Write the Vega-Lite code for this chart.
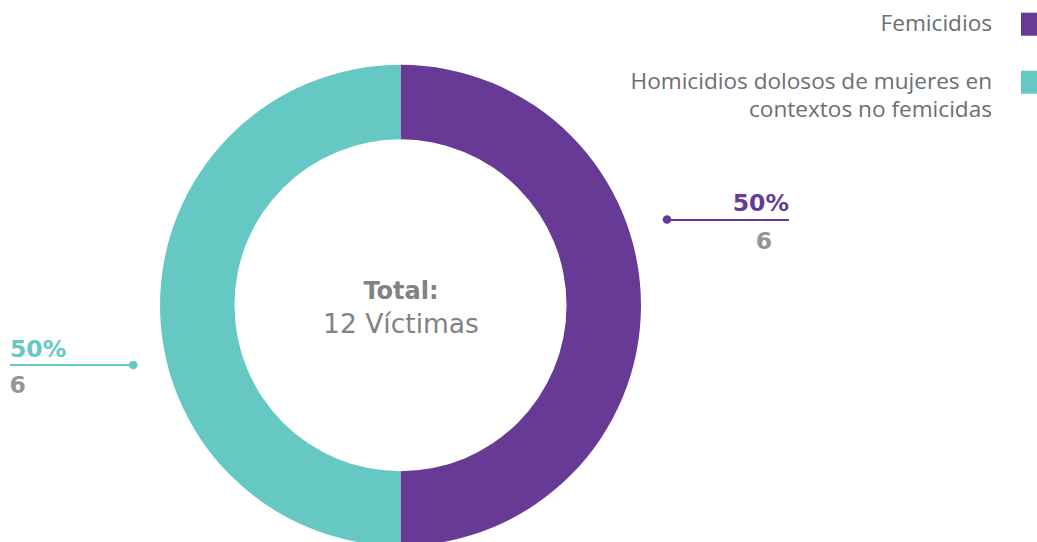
{
  "$schema": "https://vega.github.io/schema/vega-lite/v6.json",
  "width": 1037,
  "height": 542,
  "autosize": {"type": "none"},
  "padding": 0,
  "background": "white",
  "data": {
    "values": [
      {"tipo": "Femicidios", "victimas": 6, "porcentaje": 0.5},
      {"tipo": "Homicidios dolosos de mujeres en contextos no femicidas", "victimas": 6, "porcentaje": 0.5}
    ]
  },
  "layer": [
    {
      "mark": {"type": "arc", "outerRadius": 240.5, "innerRadius": 166, "xOffset": -118, "yOffset": 34.3},
      "encoding": {
        "theta": {"field": "victimas", "type": "quantitative", "stack": true},
        "color": {
          "field": "tipo",
          "type": "nominal",
          "scale": {
            "domain": ["Femicidios", "Homicidios dolosos de mujeres en contextos no femicidas"],
            "range": ["#673A96", "#66C8C3"]
          },
          "legend": {
            "orient": "none",
            "legendX": 1021,
            "legendY": 12.7,
            "title": null,
            "padding": 0,
            "symbolType": "square",
            "symbolSize": 529,
            "symbolStrokeWidth": 0,
            "labelAlign": "right",
            "labelBaseline": "middle",
            "labelOffset": -52,
            "labelFont": "Open Sans",
            "labelFontSize": 22.6,
            "labelColor": "#6d6e71",
            "labelLimit": 600,
            "rowPadding": 34,
            "labelExpr": "datum.value === 'Femicidios' ? datum.label : ['Homicidios dolosos de mujeres en', 'contextos no femicidas']",
            "encode": {
              "labels": {"update": {"lineHeight": {"value": 28}}}
            }
          }
        }
      }
    },
    {
      "transform": [{"aggregate": [{"op": "sum", "field": "victimas", "as": "total"}]}],
      "mark": {"type": "text", "text": "Total:", "font": "DejaVu Sans", "fontWeight": "bold", "fontSize": 24, "color": "#808285", "align": "center", "baseline": "alphabetic", "xOffset": -117.5, "yOffset": 27.5},
      "encoding": {}
    },
    {
      "transform": [{"aggregate": [{"op": "sum", "field": "victimas", "as": "total"}]}],
      "mark": {"type": "text", "text": "12 Víctimas", "font": "DejaVu Sans", "fontWeight": "normal", "fontSize": 26.5, "color": "#808285", "align": "center", "baseline": "alphabetic", "xOffset": -117.5, "yOffset": 61.5},
      "encoding": {}
    },
    {
      "transform": [{"filter": "datum.tipo === 'Femicidios'"}],
      "mark": {"type": "text", "font": "DejaVu Sans", "fontWeight": "bold", "fontSize": 23.5, "color": "#673A96", "align": "right", "baseline": "alphabetic", "xOffset": 270.5, "yOffset": -60.3},
      "encoding": {"text": {"field": "porcentaje", "type": "quantitative", "format": ".0%"}}
    },
    {
      "transform": [{"filter": "datum.tipo === 'Femicidios'"}],
      "mark": {"type": "text", "font": "DejaVu Sans", "fontWeight": "bold", "fontSize": 23.5, "color": "#939598", "align": "center", "baseline": "alphabetic", "xOffset": 245.5, "yOffset": -22},
      "encoding": {"text": {"field": "victimas", "type": "quantitative"}}
    },
    {
      "transform": [{"filter": "datum.tipo === 'Femicidios'"}],
      "mark": {"type": "tick", "orient": "horizontal", "size": 122, "thickness": 2, "color": "#673A96", "opacity": 1, "xOffset": 209.5, "yOffset": -51},
      "encoding": {}
    },
    {
      "transform": [{"filter": "datum.tipo === 'Femicidios'"}],
      "mark": {"type": "point", "filled": true, "size": 75, "opacity": 1, "color": "#673A96", "xOffset": 148.5, "yOffset": -51.5},
      "encoding": {}
    },
    {
      "transform": [{"filter": "datum.tipo !== 'Femicidios'"}],
      "mark": {"type": "text", "font": "DejaVu Sans", "fontWeight": "bold", "fontSize": 23.5, "color": "#66C8C3", "align": "left", "baseline": "alphabetic", "xOffset": -508.5, "yOffset": 85.7},
      "encoding": {"text": {"field": "porcentaje", "type": "quantitative", "format": ".0%"}}
    },
    {
      "transform": [{"filter": "datum.tipo !== 'Femicidios'"}],
      "mark": {"type": "text", "font": "DejaVu Sans", "fontWeight": "bold", "fontSize": 23.5, "color": "#939598", "align": "left", "baseline": "alphabetic", "xOffset": -509, "yOffset": 122.3},
      "encoding": {"text": {"field": "victimas", "type": "quantitative"}}
    },
    {
      "transform": [{"filter": "datum.tipo !== 'Femicidios'"}],
      "mark": {"type": "tick", "orient": "horizontal", "size": 123, "thickness": 2, "color": "#66C8C3", "opacity": 1, "xOffset": -447, "yOffset": 94},
      "encoding": {}
    },
    {
      "transform": [{"filter": "datum.tipo !== 'Femicidios'"}],
      "mark": {"type": "point", "filled": true, "size": 75, "opacity": 1, "color": "#66C8C3", "xOffset": -385.2, "yOffset": 94},
      "encoding": {}
    }
  ],
  "config": {"view": {"stroke": null}}
}
